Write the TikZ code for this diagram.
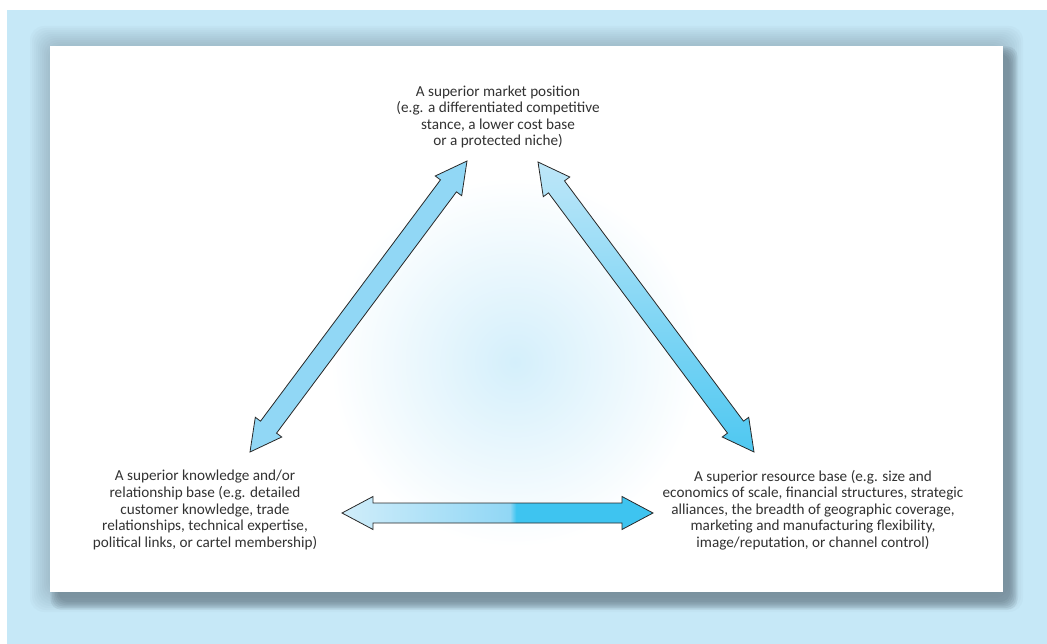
\documentclass[tikz,border=0pt]{standalone}
\usepackage{fontspec}
\setmainfont{Carlito}
\usetikzlibrary{calc,positioning}
\definecolor{bgblue}{RGB}{198,232,247}
\definecolor{shadowcol}{RGB}{94,113,126}
\definecolor{glowcol}{RGB}{212,239,251}
\definecolor{txtgray}{RGB}{50,50,50}
\definecolor{arrline}{RGB}{40,40,40}
\definecolor{arrlight}{RGB}{208,237,250}
\definecolor{arrmid}{RGB}{145,215,245}
\definecolor{arrdark}{RGB}{62,196,240}
\pgfdeclarehorizontalshading{harrow}{100bp}{color(0bp)=(arrlight); color(25bp)=(arrlight); color(52bp)=(arrmid); color(53bp)=(arrdark); color(100bp)=(arrdark)}
\tikzset{
  lbl/.style={align=center, text=txtgray, font=\fontsize{15.2}{16.6}\selectfont, inner sep=0pt},
  blockarrow/.style={draw=arrline, line width=0.8pt, line join=miter,
    to path={let \p1=($(\tikztotarget)-(\tikztostart)$), \n1={atan2(\y1,\x1)} in
      (\tikztostart) -- ($(\tikztostart)+(\n1:31pt)+(\n1+90:16.5pt)$)
      -- ($(\tikztostart)+(\n1:31pt)+(\n1+90:10pt)$)
      -- ($(\tikztotarget)+(\n1:-31pt)+(\n1+90:10pt)$)
      -- ($(\tikztotarget)+(\n1:-31pt)+(\n1+90:16.5pt)$)
      -- (\tikztotarget)
      -- ($(\tikztotarget)+(\n1:-31pt)+(\n1-90:16.5pt)$)
      -- ($(\tikztotarget)+(\n1:-31pt)+(\n1-90:10pt)$)
      -- ($(\tikztostart)+(\n1:31pt)+(\n1-90:10pt)$)
      -- ($(\tikztostart)+(\n1:31pt)+(\n1-90:16.5pt)$) -- cycle}}
}
\begin{document}
\begin{tikzpicture}[x=1pt, y=-1pt]
	\fill[white] (0,0) rectangle (1047,644);
	\useasboundingbox (0,0) rectangle (1047,644);
	\fill[bgblue] (7,10) rectangle (1047,644);
	\foreach \i in {1,...,10}
	\fill[shadowcol, opacity=0.035, rounded corners=14pt] (50-\i*2, 46-\i*2) rectangle (1003+\i*2, 592+\i*2);
	\foreach \i in {0,...,5}
	\fill[shadowcol, opacity=0.13, rounded corners=10pt] (58-\i*1.5, 54-\i*1.5) rectangle (1010+\i*1.5, 602+\i*1.5);
	\fill[white] (50,46) rectangle (1003,592);
	\shade[inner color=glowcol, outer color=white] (515,362) circle (185pt);

	\node[lbl] (market) at (498,117) {A superior market position\\(e.g. a differentiated competitive\\stance, a lower cost base\\or a protected niche)};
	\node[lbl] (knowledge) at (205,510) {A superior knowledge and/or\\relationship base (e.g. detailed\\customer knowledge, trade\\relationships, technical expertise,\\political links, or cartel membership)};
	\node[lbl] (resource) at (813,510) {A superior resource base (e.g. size and\\economics of scale, financial structures, strategic\\alliances, the breadth of geographic coverage,\\marketing and manufacturing flexibility,\\image/reputation, or channel control)};

	\coordinate (marketL) at (467,161);
	\coordinate (marketR) at (538,162);
	\coordinate (knowledgeT) at (250,452);
	\coordinate (knowledgeR) at (342,513);
	\coordinate (resourceT) at (754,452);
	\coordinate (resourceL) at (653,513);

	\draw[blockarrow, fill=arrmid] (marketL) to (knowledgeT);
	\draw[blockarrow, top color=arrlight!70!arrmid, bottom color=arrdark!80!arrmid] (marketR) to (resourceT);
	\draw[blockarrow, shading=harrow] (knowledgeR) to (resourceL);
\end{tikzpicture}
\end{document}
